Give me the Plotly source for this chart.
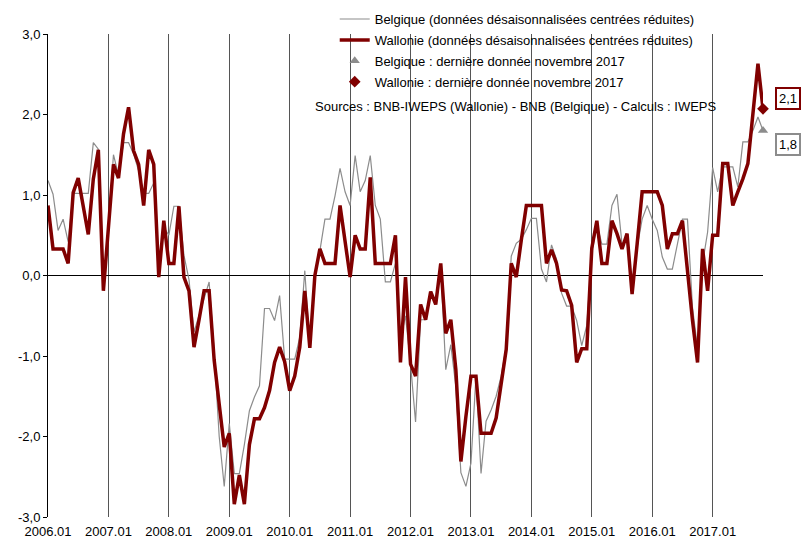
import plotly.graph_objects as go

# Tick labels / categories
years = ["2006.01", "2007.01", "2008.01", "2009.01", "2010.01", "2011.01",
         "2012.01", "2013.01", "2014.01", "2015.01", "2016.01", "2017.01"]
y_ticks = [-3, -2, -1, 0, 1, 2, 3]
y_ticktext = ["-3,0", "-2,0", "-1,0", "0,0", "1,0", "2,0", "3,0"]

# Monthly series, 2006.01 .. 2017.11
belgique = [
    1.18, 1.01, 0.56, 0.70, 0.42, 1.02, 1.02, 1.02, 1.02, 1.65, 1.57, -0.10,
    0.60, 1.50, 1.25, 1.65, 1.65, 1.51, 1.30, 1.02, 1.02, 1.15, 0.05, 0.60,
    0.50, 0.86, 0.86, 0.25, -0.05, -0.70, -0.50, -0.27, -0.08, -0.95, -2.00, -2.62,
    -1.84, -2.46, -2.46, -2.10, -1.68, -1.51, -1.37, -0.41, -0.41, -0.56, -0.25, -1.04,
    -1.04, -1.04, -0.77, 0.06, -0.90, 0.02, 0.31, 0.70, 0.70, 0.99, 1.33, 1.04,
    0.87, 1.49, 1.04, 1.18, 1.49, 0.87, 0.70, -0.08, -0.08, 0.15, -0.80, -0.50,
    -1.10, -1.82, -0.55, -0.55, -0.20, -0.35, 0.10, -1.17, -0.86, -1.38, -2.45, -2.62,
    -2.33, -1.25, -2.46, -1.81, -1.67, -1.50, -1.25, -0.88, 0.24, 0.40, 0.45, 0.57,
    0.71, 0.71, 0.08, -0.08, 0.38, 0.20, -0.22, -0.38, -0.38, -0.56, -0.87, -0.62,
    0.27, 0.64, 0.39, 0.39, 0.87, 1.01, 0.39, 0.48, -0.19, 0.35, 0.70, 0.87,
    0.70, 0.56, 0.23, 0.08, 0.08, 0.39, 0.70, 0.70, -0.40, -0.90, 0.15, 0.54,
    1.34, 1.04, 1.35, 1.35, 1.35, 1.10, 1.66, 1.66, 1.80, 1.97, 1.80,
]
wallonie = [
    0.87, 0.33, 0.33, 0.33, 0.15, 1.03, 1.21, 0.87, 0.51, 1.20, 1.56, -0.19,
    0.60, 1.38, 1.21, 1.76, 2.09, 1.55, 1.38, 0.87, 1.56, 1.38, -0.02, 0.68,
    0.15, 0.15, 0.86, -0.02, -0.19, -0.89, -0.55, -0.19, -0.19, -1.05, -1.60, -2.13,
    -1.96, -2.84, -2.48, -2.84, -2.10, -1.78, -1.78, -1.64, -1.43, -1.08, -0.89, -1.07,
    -1.43, -1.25, -0.89, -0.19, -0.90, 0.00, 0.33, 0.15, 0.15, 0.15, 0.87, 0.45,
    -0.02, 0.50, 0.33, 0.33, 1.22, 0.15, 0.15, 0.15, 0.15, 0.50, -1.08, -0.02,
    -1.10, -1.25, -0.36, -0.55, -0.20, -0.36, 0.15, -0.72, -0.55, -1.17, -2.31, -1.75,
    -1.25, -1.25, -1.96, -1.96, -1.96, -1.77, -1.34, -0.92, 0.15, -0.02, 0.44, 0.87,
    0.87, 0.87, 0.87, 0.15, 0.32, 0.15, -0.18, -0.19, -0.37, -1.08, -0.91, -0.91,
    0.34, 0.68, 0.15, 0.15, 0.68, 0.52, 0.33, 0.52, -0.23, 0.39, 1.04, 1.04,
    1.04, 1.04, 0.87, 0.33, 0.52, 0.52, 0.68, 0.02, -0.56, -1.08, 0.33, -0.19,
    0.50, 0.50, 1.39, 1.39, 0.87, 1.04, 1.20, 1.39, 2.05, 2.63, 2.07,
]

months = list(range(len(wallonie)))
last = months[-1]

GREY = "#8c8c8c"
RED = "#800000"
FONT = "Liberation Sans, Arial, sans-serif"

def fr(v):
    return f"{v:.1f}".replace(".", ",")

fig = go.Figure()
fig.add_trace(go.Scatter(
    x=months, y=belgique, mode="lines", line=dict(color=GREY, width=1.2),
    name="Belgique (données désaisonnalisées centrées réduites)", legendgroup="a"))
fig.add_trace(go.Scatter(
    x=months, y=wallonie, mode="lines", line=dict(color=RED, width=3.5),
    name="Wallonie (données désaisonnalisées centrées réduites)", legendgroup="b"))
fig.add_trace(go.Scatter(
    x=[last], y=[belgique[-1]], mode="markers",
    marker=dict(symbol="triangle-up", size=9, color=GREY),
    name="Belgique : dernière donnée novembre 2017", legendgroup="c", cliponaxis=False))
fig.add_trace(go.Scatter(
    x=[last], y=[wallonie[-1]], mode="markers",
    marker=dict(symbol="diamond", size=9, color=RED),
    name="Wallonie : dernière donnée novembre 2017", legendgroup="d", cliponaxis=False))

fig.update_layout(
    width=803, height=541,
    margin=dict(l=48, r=40, t=34, b=24, autoexpand=False),
    paper_bgcolor="white", plot_bgcolor="white",
    font=dict(family=FONT, size=13, color="black"),
    showlegend=True,
    legend=dict(x=0.401, y=1.062, xanchor="left", yanchor="top",
                bgcolor="rgba(0,0,0,0)", tracegroupgap=1,
                font=dict(family=FONT, size=13)),
    xaxis=dict(range=[0, last], tickvals=[12 * i for i in range(len(years))],
               ticktext=years, showgrid=True, gridcolor="#555555", gridwidth=1,
               zeroline=False, showline=False, ticks="", ticklabelstandoff=5,
               tickfont=dict(size=13), automargin=False),
    yaxis=dict(range=[-3, 3], tickvals=y_ticks, ticktext=y_ticktext,
               showgrid=False, zeroline=True, zerolinecolor="black", zerolinewidth=1,
               showline=True, linecolor="black", linewidth=1,
               ticks="outside", ticklen=4, tickcolor="black",
               tickfont=dict(size=13), automargin=False),
    annotations=[
        dict(xref="paper", yref="paper", x=0.3706, y=0.849, xanchor="left",
             yanchor="middle", showarrow=False,
             text="Sources : BNB-IWEPS (Wallonie) - BNB (Belgique) - Calculs : IWEPS",
             font=dict(size=13)),
        dict(x=last, y=wallonie[-1], xanchor="left", yanchor="middle", xshift=12,
             yshift=10, showarrow=False, text=fr(wallonie[-1]),
             bordercolor=RED, borderwidth=2, borderpad=2, bgcolor="white",
             font=dict(size=13)),
        dict(x=last, y=belgique[-1], xanchor="left", yanchor="middle", xshift=12,
             yshift=-14, showarrow=False, text=fr(belgique[-1]),
             bordercolor=GREY, borderwidth=2, borderpad=2, bgcolor="white",
             font=dict(size=13)),
    ],
)

fig.write_html("out.html", config={"displayModeBar": False},
               post_script="document.body.style.margin='0';")
